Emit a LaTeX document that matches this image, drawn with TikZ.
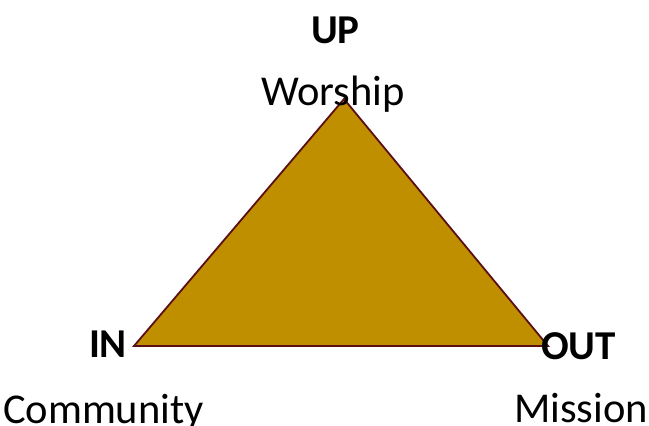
\documentclass[tikz,border=0pt]{standalone}
\usepackage{fontspec}
\setmainfont{Carlito}
\begin{document}
\begin{tikzpicture}[x=1pt,y=-1pt,
  lbl/.style={inner sep=0pt,outer sep=0pt,anchor=base west,font=\fontsize{42.5}{50}\selectfont},
  blbl/.style={lbl,font=\fontsize{41}{48}\selectfont\bfseries},
  tri/.style={draw={rgb,255:red,91;green,15;blue,20},fill={rgb,255:red,191;green,143;blue,0},line width=1.8pt,line join=miter}]
\useasboundingbox (0,0) rectangle (649,426);
\coordinate (apex) at (344,99);
\coordinate (left) at (134,346);
\coordinate (right) at (548,346);
\draw[tri] (apex) -- (right) -- (left) -- cycle;
\node[blbl] (up) at (311,43) {UP};
\node[lbl] (worship) at (261,105) {Worship};
\node[blbl] (in) at (89,357) {IN};
\node[blbl] (out) at (541,359) {OUT};
\node[lbl] (community) at (3,423) {Community};
\node[lbl] (mission) at (514,422) {Mission};
\end{tikzpicture}
\end{document}
